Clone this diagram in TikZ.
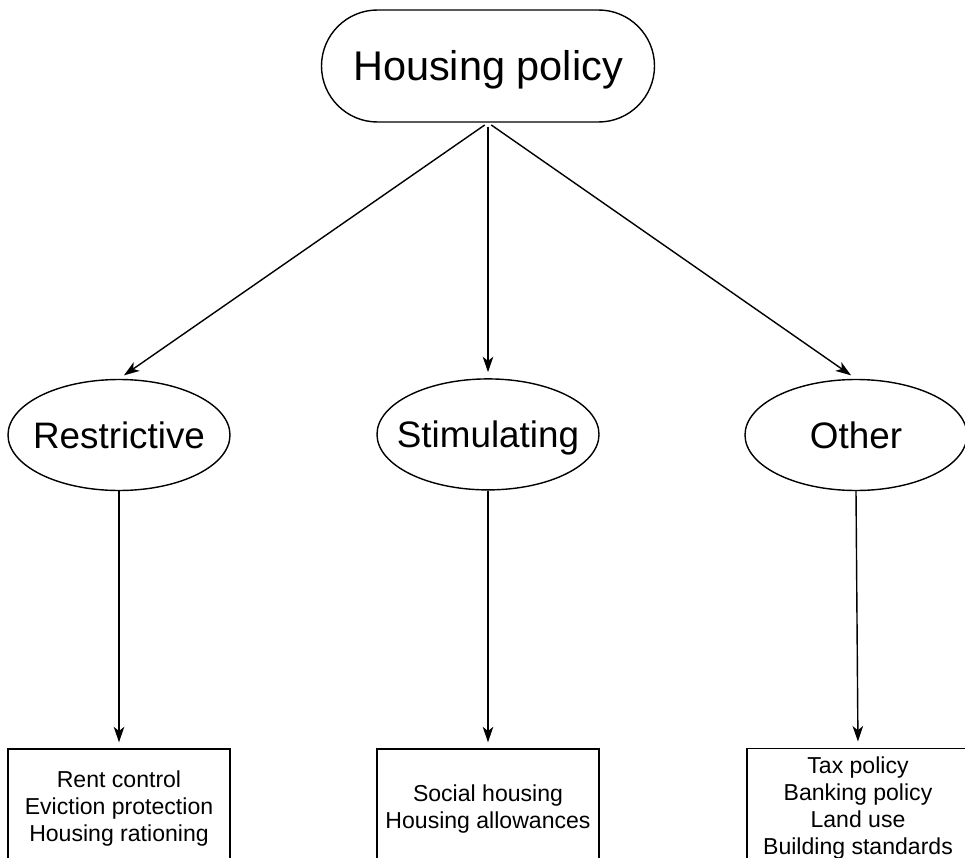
\documentclass[tikz,border=0pt]{standalone}
\usepackage{fontspec}
\setmainfont{Liberation Sans}
\usetikzlibrary{arrows.meta,shapes.geometric}

\tikzset{
  policy/.style={draw, line width=1pt, rounded corners=1.4cm, minimum width=8.325cm,
    minimum height=2.8cm, text height=21.1pt, text depth=0pt,
    font=\fontsize{29.5}{34}\selectfont},
  kind/.style={draw, line width=1pt, ellipse, minimum width=5.55cm, minimum height=2.775cm,
    inner xsep=-0.4cm, inner ysep=0pt, text height=18.8pt, text depth=0pt,
    font=\fontsize{26.2}{30}\selectfont},
  list/.style={draw, line width=1pt, minimum width=5.55cm, minimum height=2.99cm,
    align=center, font=\fontsize{16.4}{19.2}\selectfont},
  link/.style={line width=1pt, -{Stealth[length=11pt, width=7.5pt, inset=3pt]}}
}

\begin{document}
\begin{tikzpicture}
  \clip (0,0) rectangle (24.125,-21.45);

  \node[policy] (hp) at (12.2,-1.65) {Housing policy};

  \node[kind] (res) at (2.975,-10.875) {Restrictive};
  \node[kind] (sti) at (12.2,-10.86) {Stimulating};
  \node[kind] (oth) at (21.4,-10.875) {Other};

  \node[list] (resl) at (2.975,-20.22) {Rent control\\Eviction protection\\Housing rationing};
  \node[list] (stil) at (12.2,-20.22) {Social housing\\Housing allowances};
  \node[list] (othl) at (21.45,-20.2) {Tax policy\\Banking policy\\Land use\\Building standards};

  \draw[link, shorten <=0.1cm, shorten >=0.15cm] (hp.south) -- (res.north);
  \draw[link, shorten <=0.1cm, shorten >=0.15cm] (hp.south) -- (sti.north);
  \draw[link, shorten <=0.1cm, shorten >=0.15cm] (hp.south) -- (oth.north);

  \draw[link, shorten >=0.15cm] (res.south) -- (resl.north);
  \draw[link, shorten >=0.15cm] (sti.south) -- (stil.north);
  \draw[link, shorten >=0.15cm] (oth.south) -- (othl.north);

\end{tikzpicture}
\end{document}
